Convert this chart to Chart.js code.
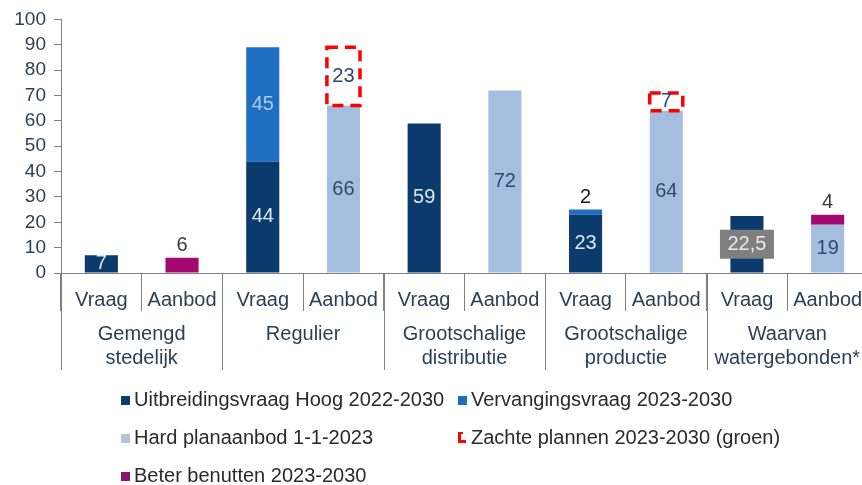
<!DOCTYPE html>
<html>
<head>
<meta charset="utf-8">
<script src="https://cdn.jsdelivr.net/npm/chart.js@4/dist/chart.umd.min.js"></script>
<style>
  html, body { margin: 0; padding: 0; background: #fff; overflow: hidden; }
  #wrap { width: 868px; height: 485px; }
</style>
</head>
<body>
<div id="wrap"><canvas id="chart" width="868" height="485"></canvas></div>
<script>
// categories (bottom level) and groups (second level)
const categories = ["Vraag", "Aanbod", "Vraag", "Aanbod", "Vraag", "Aanbod", "Vraag", "Aanbod", "Vraag", "Aanbod"];
const groups = [
  ["Gemengd", "stedelijk"],
  ["Regulier"],
  ["Grootschalige", "distributie"],
  ["Grootschalige", "productie"],
  ["Waarvan", "watergebonden*"]
];

// series
const uitbreidingsvraag = [7, null, 44, null, 59, null, 23, null, 22.5, null];
const vervangingsvraag  = [null, null, 45, null, null, null, 2, null, null, null];
const hardPlanaanbod    = [null, null, null, 66, null, 72, null, 64, null, 19];
const zachtePlannen     = [null, null, null, 23, null, null, null, 7, null, null];
const beterBenutten     = [null, 6, null, null, null, null, null, null, null, 4];

const yMin = 0;
const yMax = 100;
const yStep = 10;

const FONT = "'Liberation Sans', Arial, sans-serif";
const AXIS_GRAY = "#808080";
const TEXT_DARK = "#2b3f55";

// format numbers the dutch way (22.5 -> 22,5)
function fmt(v) {
  return String(v).replace(".", ",");
}

// red dashed outline for "zachte plannen"
const dashedBoxes = {
  id: "dashedBoxes",
  afterDatasetsDraw(chart) {
    const ctx = chart.ctx;
    chart.data.datasets.forEach((ds, i) => {
      if (!ds.dashedOutline) return;
      const meta = chart.getDatasetMeta(i);
      meta.data.forEach((bar, j) => {
        if (ds.data[j] == null) return;
        ctx.save();
        ctx.strokeStyle = "#ff0000";
        ctx.lineWidth = 3.5;
        ctx.setLineDash([11, 7]);
        ctx.strokeRect(bar.x - bar.width / 2, bar.y, bar.width, bar.base - bar.y);
        ctx.restore();
      });
    });
  }
};

// value labels inside / above the bars
const valueLabels = {
  id: "valueLabels",
  afterDatasetsDraw(chart) {
    const ctx = chart.ctx;
    ctx.save();
    ctx.font = "20px " + FONT;
    ctx.textAlign = "center";
    chart.data.datasets.forEach((ds, i) => {
      const meta = chart.getDatasetMeta(i);
      meta.data.forEach((bar, j) => {
        const v = ds.data[j];
        if (v == null) return;
        const text = fmt(v);
        const above = ds.labelAbove || (ds.labelAboveUnder && v < ds.labelAboveUnder);
        if (above) {
          ctx.textBaseline = "alphabetic";
          ctx.fillStyle = ds.labelOuterColor;
          ctx.fillText(text, bar.x, bar.y - 7);
          return;
        }
        const cy = (bar.y + bar.base) / 2;
        if (ds.labelBoxIndex && ds.labelBoxIndex.includes(j)) {
          ctx.fillStyle = "#7f7f7f";
          ctx.fillRect(bar.x - 27, cy - 14.5, 54, 29);
          ctx.fillStyle = "#e9e9e9";
        } else {
          ctx.fillStyle = ds.labelColor;
        }
        ctx.textBaseline = "middle";
        ctx.fillText(text, bar.x, cy);
      });
    });
    ctx.restore();
  }
};

// second level of the x axis: group separators and group names
const groupAxis = {
  id: "groupAxis",
  afterDraw(chart) {
    const ctx = chart.ctx;
    const xs = chart.scales.x;
    const catW = xs.width / categories.length;
    const top = xs.top;
    ctx.save();
    ctx.strokeStyle = AXIS_GRAY;
    ctx.lineWidth = 1;
    for (let g = 0; g <= groups.length; g++) {
      const x = Math.round(xs.left + g * 2 * catW) + 0.5;
      ctx.beginPath();
      ctx.moveTo(x, top);
      ctx.lineTo(x, top + 97);
      ctx.stroke();
    }
    ctx.font = "20px " + FONT;
    ctx.fillStyle = TEXT_DARK;
    ctx.textAlign = "center";
    ctx.textBaseline = "middle";
    groups.forEach((lines, g) => {
      const cx = xs.left + (2 * g + 1) * catW;
      lines.forEach((line, k) => {
        ctx.fillText(line, cx, top + 61 + k * 24);
      });
    });
    ctx.restore();
  }
};

// legend in a fixed two column grid
const gridLegend = {
  id: "gridLegend",
  afterDraw(chart) {
    const ctx = chart.ctx;
    const colX = [121, 458];
    const rowY = [399, 437, 475];
    ctx.save();
    ctx.font = "20px " + FONT;
    ctx.textBaseline = "middle";
    ctx.textAlign = "left";
    chart.data.datasets.forEach((ds, i) => {
      const x = colX[i % 2];
      const y = rowY[Math.floor(i / 2)];
      if (ds.dashedOutline) {
        ctx.fillStyle = "#ff0000";
        ctx.fillRect(x, y - 5, 3, 10);
        ctx.fillRect(x, y + 3, 8, 3);
        ctx.fillRect(x, y - 5, 5, 2);
      } else {
        ctx.fillStyle = ds.legendColor || ds.backgroundColor;
        ctx.fillRect(x, y - 3, 9, 9);
      }
      ctx.fillStyle = "#2a2a2a";
      ctx.fillText(ds.label, x + 13, y + 1);
    });
    ctx.restore();
  }
};

new Chart(document.getElementById("chart"), {
  type: "bar",
  data: {
    labels: categories,
    datasets: [
      {
        label: "Uitbreidingsvraag Hoog 2022-2030",
        data: uitbreidingsvraag,
        backgroundColor: "#0a3b6c",
        labelColor: "#dfe7f0",
        labelBoxIndex: [8]
      },
      {
        label: "Vervangingsvraag 2023-2030",
        data: vervangingsvraag,
        backgroundColor: "#1e6fc1",
        labelColor: "#aacaec",
        labelAboveUnder: 5,
        labelOuterColor: "#1a1a1a"
      },
      {
        label: "Hard planaanbod 1-1-2023",
        data: hardPlanaanbod,
        backgroundColor: "#a5bddf",
        legendColor: "#b4c2d8",
        labelColor: "#2c4a70"
      },
      {
        label: "Zachte plannen 2023-2030 (groen)",
        data: zachtePlannen,
        backgroundColor: "rgba(0,0,0,0)",
        dashedOutline: true,
        labelColor: "#2c4a70"
      },
      {
        label: "Beter benutten 2023-2030",
        data: beterBenutten,
        backgroundColor: "#a3096f",
        legendColor: "#8a1274",
        labelAbove: true,
        labelOuterColor: "#3a3a3a"
      }
    ]
  },
  options: {
    responsive: false,
    animation: false,
    categoryPercentage: 0.82,
    barPercentage: 0.5,
    layout: { padding: { top: 19, left: 0, right: 0, bottom: 0 } },
    plugins: {
      legend: { display: false },
      tooltip: { enabled: false }
    },
    scales: {
      x: {
        stacked: true,
        offset: true,
        grid: { drawOnChartArea: false, tickLength: 38, color: AXIS_GRAY, offset: true },
        border: { color: AXIS_GRAY },
        ticks: {
          padding: -23,
          color: TEXT_DARK,
          maxRotation: 0,
          autoSkip: false,
          font: { family: FONT, size: 20 }
        },
        afterFit: (scale) => { scale.height = 212; }
      },
      y: {
        stacked: true,
        min: yMin,
        max: yMax,
        grid: { drawOnChartArea: false, tickLength: 7, color: AXIS_GRAY },
        border: { color: AXIS_GRAY },
        ticks: {
          stepSize: yStep,
          autoSkip: false,
          padding: 8,
          color: TEXT_DARK,
          font: { family: FONT, size: 19 }
        },
        afterFit: (scale) => { scale.width = 61; }
      }
    }
  },
  plugins: [dashedBoxes, valueLabels, groupAxis, gridLegend]
});
</script>
</body>
</html>
